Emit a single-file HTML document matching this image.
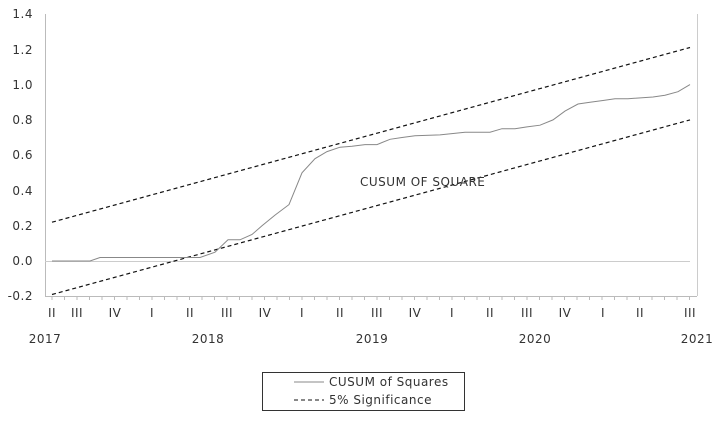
<!DOCTYPE html>
<html><head><style>
body{margin:0;background:#fff;}
svg text{font-family:"DejaVu Sans","Liberation Sans",sans-serif;font-size:12px;fill:#333;letter-spacing:0.5px;}
</style></head><body>
<svg width="726" height="419" viewBox="0 0 726 419" xmlns="http://www.w3.org/2000/svg">
<rect width="726" height="419" fill="#fff"/>
<line x1="45.5" y1="14" x2="45.5" y2="296" stroke="#bbb"/>
<line x1="697.5" y1="14" x2="697.5" y2="296" stroke="#ccc"/>
<line x1="45" y1="296.5" x2="697" y2="296.5" stroke="#bbb"/>
<line x1="45" y1="261.5" x2="690" y2="261.5" stroke="#ccc"/>
<g stroke="#bbb">
<path d="M52 296v4M64.5 296v4M77 296v4M89.5 296v4M102 296v4M114.5 296v4M127 296v4M139.5 296v4M152 296v4M164.5 296v4M177 296v4M189.5 296v4M202 296v4M214.5 296v4M227 296v4M239.5 296v4M252 296v4M264.5 296v4M277 296v4M289.5 296v4M302 296v4M314.5 296v4M327 296v4M339.5 296v4M352 296v4M364.5 296v4M377 296v4M389.5 296v4M402 296v4M414.5 296v4M427 296v4M439.5 296v4M452 296v4M464.5 296v4M477 296v4M489.5 296v4M502 296v4M514.5 296v4M527 296v4M539.5 296v4M552 296v4M564.5 296v4M577 296v4M589.5 296v4M602 296v4M614.5 296v4M627 296v4M639.5 296v4M652 296v4M664.5 296v4M677 296v4M689.5 296v4"/>
</g>
<g text-anchor="end">
<text x="33" y="18">1.4</text><text x="33" y="54">1.2</text><text x="33" y="89">1.0</text>
<text x="33" y="124">0.8</text><text x="33" y="159">0.6</text><text x="33" y="195">0.4</text>
<text x="33" y="230">0.2</text><text x="33" y="265">0.0</text><text x="33" y="300">-0.2</text>
</g>
<g text-anchor="middle">
<text x="52" y="317">II</text><text x="77" y="317">III</text><text x="115" y="317">IV</text><text x="152" y="317">I</text>
<text x="190" y="317">II</text><text x="227" y="317">III</text><text x="265" y="317">IV</text><text x="302" y="317">I</text>
<text x="340" y="317">II</text><text x="377" y="317">III</text><text x="415" y="317">IV</text><text x="452" y="317">I</text>
<text x="490" y="317">II</text><text x="527" y="317">III</text><text x="565" y="317">IV</text><text x="603" y="317">I</text>
<text x="640" y="317">II</text><text x="690" y="317">III</text>
<text x="45" y="343">2017</text><text x="208" y="343">2018</text><text x="372" y="343">2019</text>
<text x="535" y="343">2020</text><text x="697" y="343">2021</text>
</g>
<line x1="52" y1="222.2" x2="690" y2="47.5" stroke="#111" stroke-width="1.2" stroke-dasharray="4,3"/>
<line x1="52" y1="294.5" x2="690" y2="119.9" stroke="#111" stroke-width="1.2" stroke-dasharray="4,3"/>
<polyline fill="none" stroke="#888" stroke-width="1" points="52,261 90,261 100,257.5 200,257.5 215,252.2 228,239.8 240,239.8 252,234.5 262,225.7 275,215.1 289,204.6 302,172.8 315,158.7 327,151.6 340,147.2 352,146.3 365,144.6 377,144.6 390,139.3 402,137.5 415,135.8 440,134.9 465,132.2 490,132.2 502,128.7 515,128.7 527,126.9 540,125.2 553,119.9 565,111.1 578,104.0 590,102.2 603,100.5 615,98.7 628,98.7 653,97.0 665,95.2 678,91.7 690,84.6"/>
<text x="360" y="186">CUSUM OF SQUARE</text>
<rect x="262.5" y="372.5" width="202" height="38" fill="#fff" stroke="#333"/>
<line x1="294" y1="382" x2="324" y2="382" stroke="#888"/>
<line x1="294" y1="400" x2="324" y2="400" stroke="#111" stroke-dasharray="4,3"/>
<text x="329" y="386">CUSUM of Squares</text>
<text x="329" y="404">5% Significance</text>
</svg>
</body></html>
